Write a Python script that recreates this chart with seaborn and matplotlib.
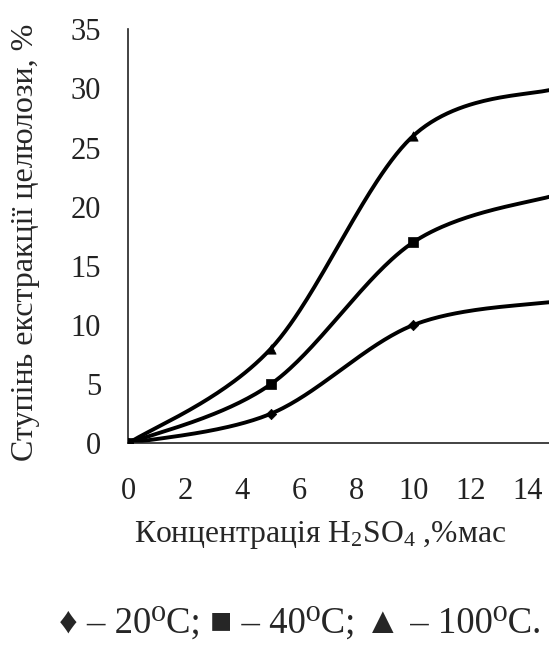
import numpy as np
import pandas as pd
import matplotlib
matplotlib.use("Agg")
import matplotlib.pyplot as plt
import seaborn as sns

# Data
conc = [0, 5, 10, 15]
t20 = [0, 2.5, 10, 12]
t40 = [0, 5, 17, 21]
t100 = [0, 8, 26, 30]
series_names = ["20", "40", "100"]
xticks = [0, 2, 4, 6, 8, 10, 12, 14]
yticks = [0, 5, 10, 15, 20, 25, 30, 35]

sns.set_theme(style="white")
plt.rcParams['font.family'] = ['Liberation Serif', 'DejaVu Serif']
plt.rcParams['mathtext.fontset'] = 'custom'
plt.rcParams['mathtext.rm'] = 'Liberation Serif'
plt.rcParams['mathtext.it'] = 'Liberation Serif:italic'

fig = plt.figure(figsize=(5.49, 6.61), dpi=100)
ax = fig.add_axes([0.2337, 0.3293, 0.7663, 0.6264])


def smooth(xs, ys, n=60):
    """Excel-like smoothed line (Bezier with 1/6 tension) through the points."""
    P = np.column_stack([xs, ys]).astype(float)
    m = len(P)
    out = []
    for i in range(m - 1):
        p0 = P[max(i - 1, 0)]
        p1 = P[i]
        p2 = P[i + 1]
        p3 = P[min(i + 2, m - 1)]
        c1 = p1 + (p2 - p0) / 6.0
        c2 = p2 - (p3 - p1) / 6.0
        t = np.linspace(0, 1, n)[:, None]
        seg = ((1 - t) ** 3) * p1 + 3 * ((1 - t) ** 2) * t * c1 + 3 * (1 - t) * t ** 2 * c2 + t ** 3 * p2
        out.append(seg if i == 0 else seg[1:])
    out = np.vstack(out)
    return out[:, 0], out[:, 1]


markers = {"20": "D", "40": "s", "100": "^"}
msize = {"20": 28, "40": 60, "100": 45}
for name, ys in zip(series_names, [t20, t40, t100]):
    sx, sy = smooth(conc, ys)
    df_line = pd.DataFrame({"x": sx, "y": sy})
    sns.lineplot(data=df_line, x="x", y="y", ax=ax, color="black", lw=2.8,
                 sort=False, estimator=None)
for name, ys in [("20", t20), ("100", t100), ("40", t40)]:
    df_pts = pd.DataFrame({"x": conc, "y": ys})
    sns.scatterplot(data=df_pts, x="x", y="y", ax=ax, color="black",
                    marker=markers[name], s=msize[name], edgecolor="black",
                    linewidth=0.5, zorder=5)

ax.set_xlim(0, 14.76)
ax.set_ylim(0, 35)
ax.set_xticks(xticks)
ax.set_yticks(yticks)
ax.set_xticklabels([str(v) for v in xticks], fontsize=22)
ax.set_yticklabels([str(v) for v in yticks], fontsize=22)
for s in ["top", "right"]:
    ax.spines[s].set_visible(False)
for s in ["left", "bottom"]:
    ax.spines[s].set_color("#222222")
    ax.spines[s].set_linewidth(1.2)
ax.tick_params(axis="both", direction="out", length=7.5, width=1.2, colors="#222222")
ax.tick_params(axis="x", pad=17)
ax.tick_params(axis="y", pad=12)
ax.set_xlabel("")
ax.set_ylabel("")

fig.text(26 / 549, 1 - 242 / 661, "Ступінь екстракції целюлози, %", rotation=90,
         ha="center", va="center", fontsize=23)
fig.text(0.583, 0.19, "Концентрація H$_2$SO$_4$ ,%мас", ha="center", va="center", fontsize=22.8)
fig.text(0.547, 0.0575, "♦ – 20⁰C; ■ – 40⁰C; ▲ – 100⁰C.", ha="center", va="center", fontsize=26.5)

fig.savefig("out.png", dpi=100)
